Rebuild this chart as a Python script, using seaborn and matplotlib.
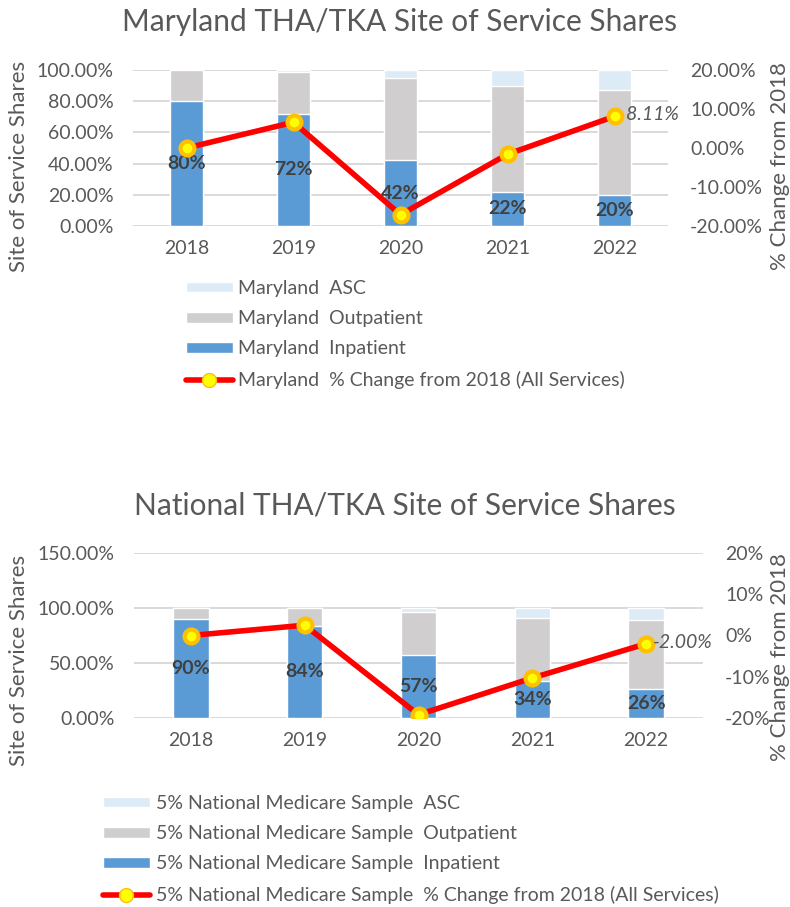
import matplotlib

matplotlib.use("Agg")
import pandas as pd
import seaborn as sns
from matplotlib import pyplot as plt
from matplotlib.lines import Line2D
from matplotlib.patches import Patch
from matplotlib.ticker import MultipleLocator, PercentFormatter

YEARS = ["2018", "2019", "2020", "2021", "2022"]

MD_INPATIENT = [0.80, 0.72, 0.42, 0.22, 0.20]
MD_OUTPATIENT = [0.20, 0.27, 0.53, 0.68, 0.67]
MD_ASC = [0.00, 0.01, 0.05, 0.10, 0.13]
MD_CHANGE = [0.000, 0.066, -0.171, -0.016, 0.0811]

NAT_INPATIENT = [0.90, 0.84, 0.57, 0.34, 0.26]
NAT_OUTPATIENT = [0.10, 0.16, 0.39, 0.57, 0.63]
NAT_ASC = [0.00, 0.00, 0.04, 0.09, 0.11]
NAT_CHANGE = [0.000, 0.025, -0.192, -0.103, -0.020]

IN_COLOR = "#5B9BD5"
OUT_COLOR = "#D0CECE"
ASC_COLOR = "#DDEBF7"
LINE_COLOR = "#FF0000"
MARKER_FACE = "#FFFF00"
MARKER_EDGE = "#FFC000"
TEXT_COLOR = "#595959"
FONT = ["Lato", "DejaVu Sans"]


def draw_panel(fig, rect, title, title_xy, prefix, inpatient, outpatient, asc, change,
               left_max, left_step, right_decimals, ylabel_pos, rlabel_pos, legend_xy, end_offset):
    ax = fig.add_axes(rect)
    df = pd.DataFrame({"year": YEARS, "inpatient": inpatient, "outpatient": outpatient, "asc": asc})
    df["top_out"] = df["inpatient"] + df["outpatient"]
    df["top_asc"] = df["top_out"] + df["asc"]

    # stacked bars: draw cumulative totals from the tallest layer down
    for col, color in [("top_asc", ASC_COLOR), ("top_out", OUT_COLOR), ("inpatient", IN_COLOR)]:
        sns.barplot(data=df, x="year", y=col, color=color, width=0.31, saturation=1, ax=ax, zorder=2)

    ax.bar_label(ax.containers[-1], labels=[f"{v:.0%}" for v in inpatient], label_type="center",
                 fontsize=14, fontweight="bold", color="#404040")

    ax.set_ylim(0, left_max)
    ax.yaxis.set_major_locator(MultipleLocator(left_step))
    ax.yaxis.set_major_formatter(PercentFormatter(1, decimals=2))
    ax.grid(axis="y", color="#D9D9D9", linewidth=1.4)
    ax.set_axisbelow(True)
    ax.set_xlabel("")
    ax.set_ylabel("")
    ax.tick_params(length=0, labelsize=14, labelcolor=TEXT_COLOR)
    ax.tick_params(axis="x", pad=10)
    ax.tick_params(axis="y", pad=14)
    for spine in ax.spines.values():
        spine.set_visible(False)

    ax2 = ax.twinx()
    sns.pointplot(x=YEARS, y=change, ax=ax2, color=LINE_COLOR, errorbar=None, markers="o",
                  markersize=10, linewidth=4, markerfacecolor=MARKER_FACE, markeredgecolor=MARKER_EDGE)
    for line in ax2.lines:
        line.set_markerfacecolor(MARKER_FACE)
        line.set_markeredgecolor(MARKER_EDGE)
    ax2.annotate(f"{change[-1]:.2%}", xy=(len(YEARS) - 1, change[-1]), xytext=(end_offset, 1),
                 textcoords="offset points", va="center", ha="left", fontsize=14,
                 style="italic", color=TEXT_COLOR)
    ax2.set_ylim(-0.2, 0.2)
    ax2.yaxis.set_major_locator(MultipleLocator(0.1))
    ax2.yaxis.set_major_formatter(PercentFormatter(1, decimals=right_decimals))
    ax2.set_ylabel("")
    ax2.tick_params(length=0, labelsize=14, labelcolor=TEXT_COLOR, pad=16)
    for spine in ax2.spines.values():
        spine.set_visible(False)

    fig.text(title_xy[0], title_xy[1], title, ha="center", va="center", fontsize=21.5, color=TEXT_COLOR)
    fig.text(ylabel_pos[0], ylabel_pos[1], "Site of Service Shares", rotation=90, ha="center",
             va="center", fontsize=16, color=TEXT_COLOR)
    fig.text(rlabel_pos[0], rlabel_pos[1], "% Change from 2018", rotation=90, ha="center",
             va="center", fontsize=16, color=TEXT_COLOR)

    handles = [
        Patch(facecolor=ASC_COLOR),
        Patch(facecolor=OUT_COLOR),
        Patch(facecolor=IN_COLOR),
        Line2D([], [], color=LINE_COLOR, linewidth=4, marker="o", markersize=10,
               markerfacecolor=MARKER_FACE, markeredgecolor=MARKER_EDGE),
    ]
    labels = [f"{prefix}  ASC", f"{prefix}  Outpatient", f"{prefix}  Inpatient",
              f"{prefix}  % Change from 2018 (All Services)"]
    leg = fig.legend(handles, labels, loc="upper left", bbox_to_anchor=legend_xy, frameon=False,
                     fontsize=14, handlelength=2.4, handleheight=0.45, handletextpad=0.3,
                     labelspacing=0.68, borderpad=0, borderaxespad=0)
    for txt in leg.get_texts():
        txt.set_color(TEXT_COLOR)


sns.set_theme(style="white")
plt.rcParams["font.family"] = FONT
plt.rcParams["axes.unicode_minus"] = False

fig = plt.figure(figsize=(7.9, 9.07), dpi=100)

draw_panel(fig, [133 / 790, 1 - 226 / 907, 535 / 790, 156 / 907],
           "Maryland THA/TKA Site of Service Shares", (400 / 790, 1 - 22 / 907), "Maryland",
           MD_INPATIENT, MD_OUTPATIENT, MD_ASC, MD_CHANGE,
           1.0, 0.2, 2, (19 / 790, 1 - 166 / 907), (780 / 790, 1 - 166 / 907),
           (186 / 790, 1 - 280 / 907), 8)

draw_panel(fig, [134 / 790, 1 - 718 / 907, 569 / 790, 165 / 907],
           "National THA/TKA Site of Service Shares", (405 / 790, 1 - 505 / 907),
           "5% National Medicare Sample",
           NAT_INPATIENT, NAT_OUTPATIENT, NAT_ASC, NAT_CHANGE,
           1.5, 0.5, 0, (19 / 790, 1 - 660 / 907), (780 / 790, 1 - 657 / 907),
           (103 / 790, 1 - 795 / 907), 5)

fig.savefig("out.png", dpi=100)
